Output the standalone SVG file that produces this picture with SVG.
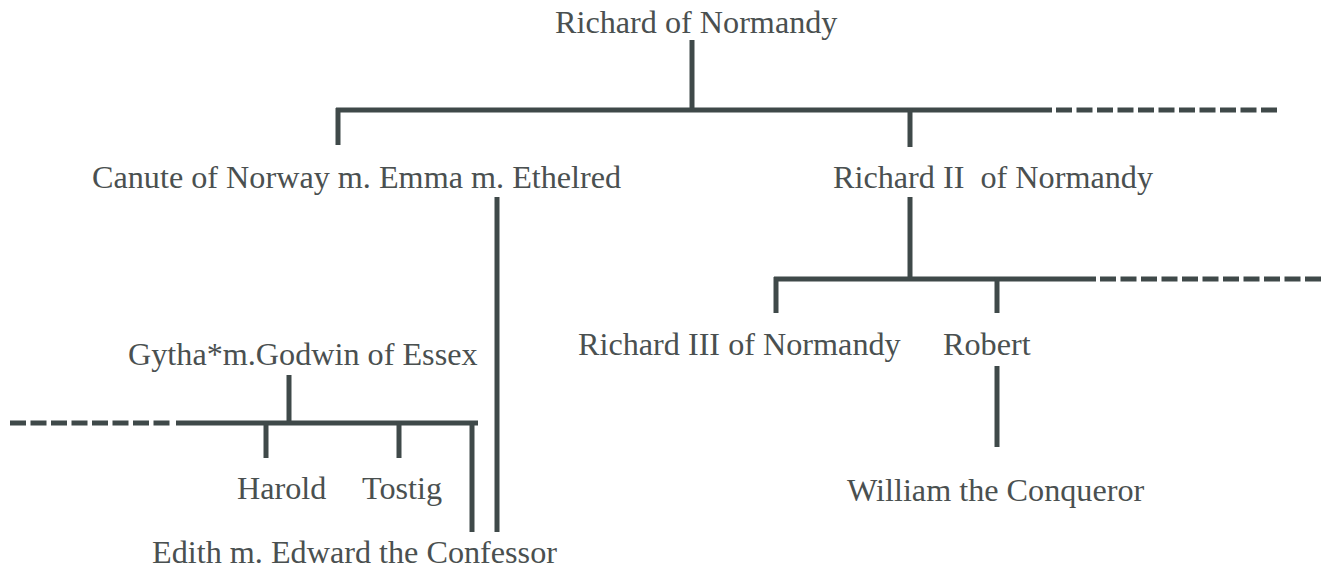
<svg xmlns="http://www.w3.org/2000/svg" width="1326" height="575" viewBox="0 0 1326 575">
<style>
.t{font-family:"Liberation Serif","Times New Roman",serif;font-size:32.2px;fill:#4a5050;white-space:pre}
.l{stroke:#3f4949;stroke-width:5;fill:none}
.d{stroke:#3f4949;stroke-width:5;fill:none;stroke-dasharray:16 4.5}
</style>
<rect width="1326" height="575" fill="#ffffff"/>
<g id="connectors">
<line class="l" x1="692" y1="40" x2="692" y2="110"/>
<line class="l" x1="336" y1="110" x2="1052" y2="110"/>
<line class="d" x1="1056" y1="110" x2="1277" y2="110"/>
<line class="l" x1="338" y1="108" x2="338" y2="145"/>
<line class="l" x1="910" y1="108" x2="910" y2="147"/>
<line class="l" x1="910" y1="197" x2="910" y2="279"/>
<line class="l" x1="774" y1="279" x2="1096" y2="279"/>
<line class="d" x1="1100" y1="279" x2="1325" y2="279"/>
<line class="l" x1="776" y1="277" x2="776" y2="313"/>
<line class="l" x1="997" y1="277" x2="997" y2="313"/>
<line class="l" x1="997" y1="366" x2="997" y2="447"/>
<line class="l" x1="497" y1="197" x2="497" y2="532"/>
<line class="l" x1="289" y1="375" x2="289" y2="423"/>
<line class="l" x1="176" y1="423" x2="478" y2="423"/>
<line class="d" x1="10" y1="423" x2="172" y2="423"/>
<line class="l" x1="266" y1="421" x2="266" y2="458"/>
<line class="l" x1="399" y1="421" x2="399" y2="458"/>
<line class="l" x1="472" y1="421" x2="472" y2="532"/>
</g>
<g id="richard-of-normandy"><text class="t" x="555" y="33">Richard of Normandy</text></g>
<g id="canute-emma-ethelred"><text class="t" x="92" y="188">Canute of Norway m. Emma m. Ethelred</text></g>
<g id="richard-ii"><text class="t" x="833" y="188">Richard II  of Normandy</text></g>
<g id="richard-iii"><text class="t" x="578" y="355">Richard III of Normandy</text></g>
<g id="robert"><text class="t" x="943" y="355">Robert</text></g>
<g id="william"><text class="t" x="847" y="501">William the Conqueror</text></g>
<g id="gytha-godwin"><text class="t" x="128" y="365">Gytha*m.Godwin of Essex</text></g>
<g id="harold"><text class="t" x="237" y="499">Harold</text></g>
<g id="tostig"><text class="t" x="362" y="499">Tostig</text></g>
<g id="edith-edward"><text class="t" x="152" y="563">Edith m. Edward the Confessor</text></g>
</svg>
